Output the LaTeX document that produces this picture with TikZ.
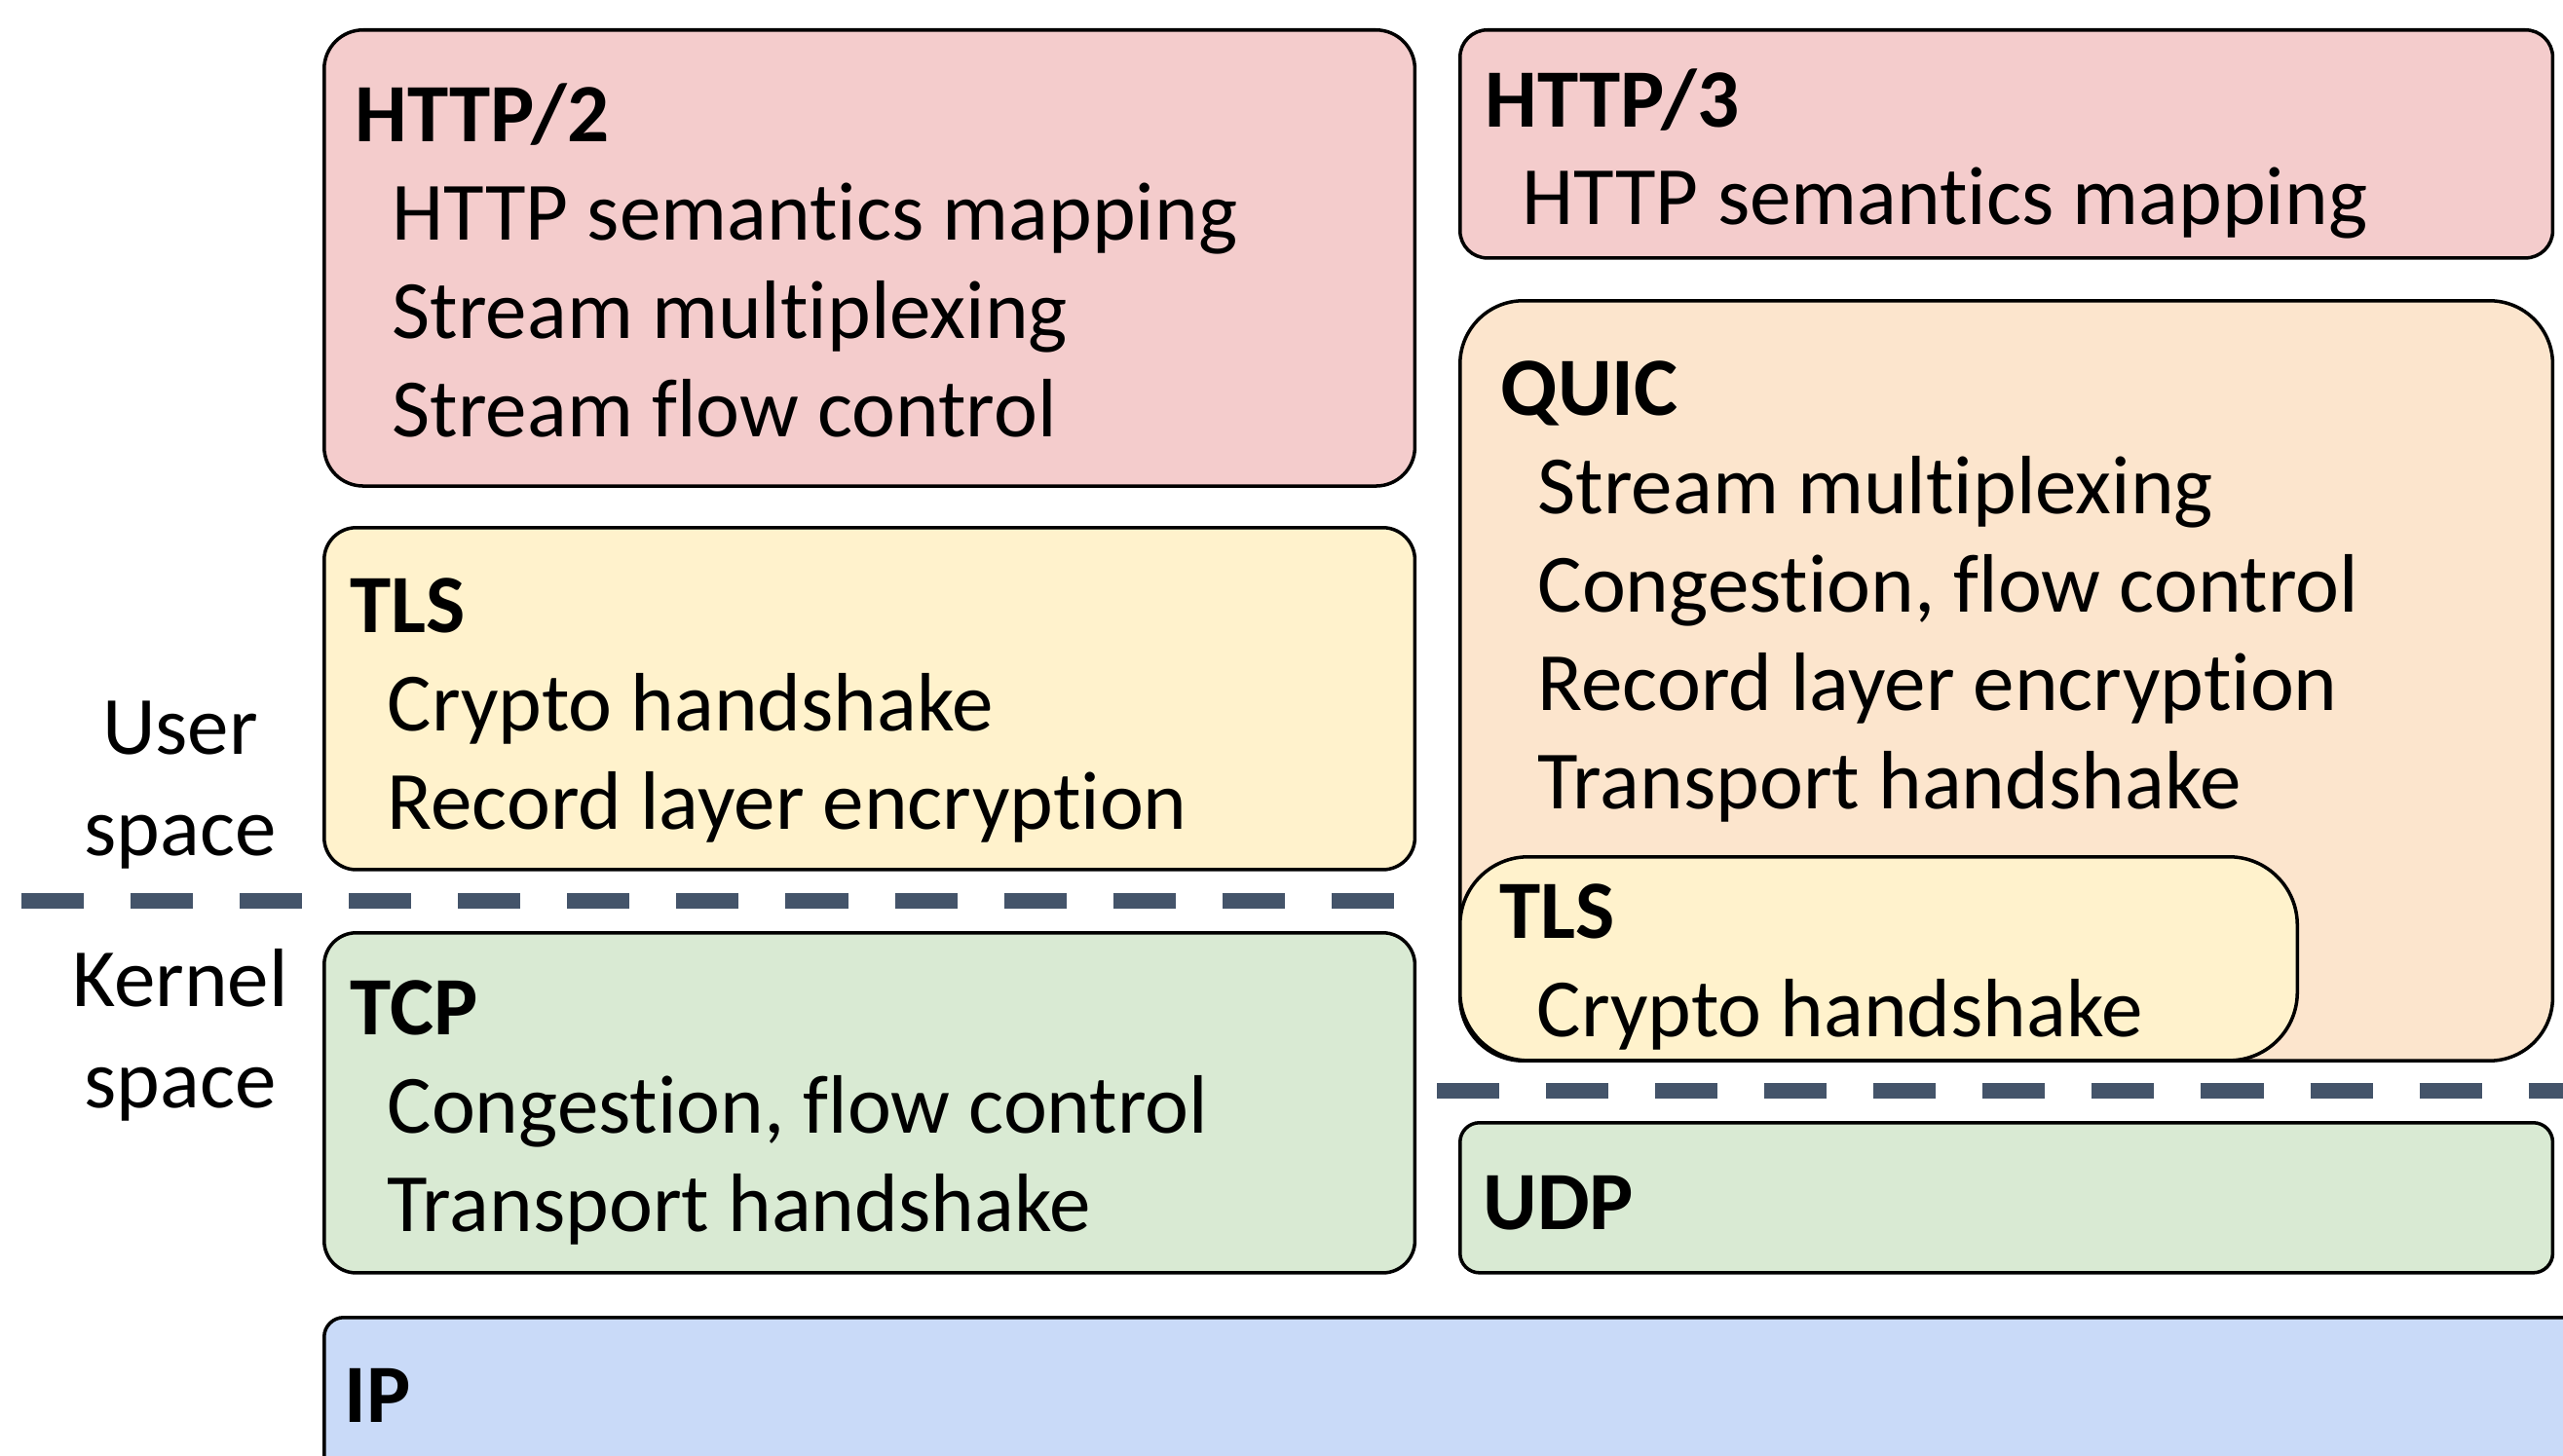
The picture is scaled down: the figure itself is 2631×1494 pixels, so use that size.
\documentclass[tikz,border=0pt]{standalone}
\usepackage{fontspec}
\setmainfont{Carlito}[Ligatures=NoCommon]
\usetikzlibrary{calc, positioning}

\definecolor{httpred}{HTML}{F4CCCC}
\definecolor{tlsyellow}{HTML}{FFF2CC}
\definecolor{quicorange}{HTML}{FCE5CD}
\definecolor{tcpgreen}{HTML}{D9EAD3}
\definecolor{ipblue}{HTML}{C9DAF8}
\definecolor{splitgray}{HTML}{44546A}

\begin{document}
\begin{tikzpicture}[x=0.01cm, y=-0.01cm]
  \tikzstyle{layer} = [rectangle, draw=black, line width=1pt, anchor=north west, inner sep=0pt]
  % base of a multi-line node = baseline of its last line
  \tikzstyle{txt} = [anchor=base west, align=left, inner sep=0pt, font=\fontsize{24.2}{28.7}\selectfont]
  \tikzstyle{side} = [anchor=base, align=center, inner sep=0pt, font=\fontsize{24.2}{29.5}\selectfont]
  \tikzstyle{split} = [line width=0.16cm, splitgray, dash pattern=on 0.64cm off 0.48cm]

  \useasboundingbox (0,0) rectangle (2631,1494);
  \clip (0,0) rectangle (2631,1494);

  % left stack
  \node (http2) [layer, fill=httpred, rounded corners=0.4cm, minimum width=11.19cm, minimum height=4.68cm] at (331,29) {};
  \node (tlsl)  [layer, fill=tlsyellow, rounded corners=0.33cm, minimum width=11.19cm, minimum height=3.51cm] at (331,540) {};
  \node (tcp)   [layer, fill=tcpgreen, rounded corners=0.33cm, minimum width=11.19cm, minimum height=3.49cm] at (331,956) {};

  % right stack
  \node (http3) [layer, fill=httpred, rounded corners=0.28cm, minimum width=11.21cm, minimum height=2.34cm] at (1497,29) {};
  \node (quic)  [layer, fill=quicorange, rounded corners=0.65cm, minimum width=11.21cm, minimum height=7.8cm] at (1497,307) {};
  \node (tlsq)  [layer, fill=tlsyellow, rounded corners=0.7cm, minimum width=8.59cm, minimum height=2.09cm] at (1497,878) {};
  \node (udp)   [layer, fill=tcpgreen, rounded corners=0.2cm, minimum width=11.21cm, minimum height=1.54cm] at (1497,1151) {};

  % IP runs off the page
  \node (ip)    [layer, fill=ipblue, rounded corners=0.2cm, minimum width=24cm, minimum height=3cm] at (331,1351) {};

  % box texts
  \node (http2txt) [txt] at ($(http2.north west)+(33,419)$)
    {\textbf{HTTP/2}\\ \hspace*{0.38cm}HTTP semantics mapping\\ \hspace*{0.38cm}Stream multiplexing\\ \hspace*{0.38cm}Stream flow control};
  \node (tlsltxt) [txt] at ($(tlsl.north west)+(28,311)$)
    {\textbf{TLS}\\ \hspace*{0.38cm}Crypto handshake\\ \hspace*{0.38cm}Record layer encryption};
  \node (tcptxt) [txt] at ($(tcp.north west)+(28,308)$)
    {\textbf{TCP}\\ \hspace*{0.38cm}Congestion, flow control\\ \hspace*{0.38cm}Transport handshake};
  \node (http3txt) [txt] at ($(http3.north west)+(27,202)$)
    {\textbf{HTTP/3}\\ \hspace*{0.38cm}HTTP semantics mapping};
  \node (quictxt) [txt] at ($(quic.north west)+(43,523)$)
    {\textbf{QUIC}\\ \hspace*{0.38cm}Stream multiplexing\\ \hspace*{0.38cm}Congestion, flow control\\ \hspace*{0.38cm}Record layer encryption\\ \hspace*{0.38cm}Transport handshake};
  \node (tlsqtxt) [txt] at ($(tlsq.north west)+(42,186)$)
    {\textbf{TLS}\\ \hspace*{0.38cm}Crypto handshake};
  \node (udptxt) [txt] at ($(udp.north west)+(25,111)$) {\textbf{UDP}};
  \node (iptxt) [txt] at ($(ip.north west)+(22,109)$) {\textbf{IP}};

  % user / kernel split
  \node (user)   [side] at (185,878)  {User\\space};
  \node (kernel) [side] at (185,1137) {Kernel\\space};

  \coordinate (splitla) at (22,925);
  \coordinate (splitlb) at (1435,925);
  \coordinate (splitra) at (1475,1120);
  \coordinate (splitrb) at (2700,1120);
  \draw [split] (splitla) -- (splitlb);
  \draw [split] (splitra) -- (splitrb);
\end{tikzpicture}
\end{document}
